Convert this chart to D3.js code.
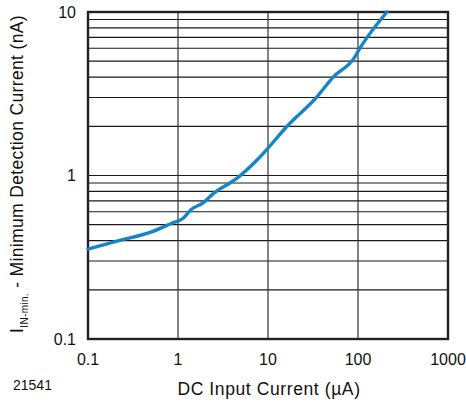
<!DOCTYPE html>
<html><head><meta charset="utf-8">
<script src="https://cdn.jsdelivr.net/npm/d3@7"></script>
<style>body{margin:0;background:#fff}svg{display:block;font-family:Arial,"Liberation Sans",sans-serif}</style>
</head><body><svg id="c" width="466" height="405"></svg>
<script>
const xVals = [0.1, 0.22, 0.5, 0.85, 1.15, 1.4, 1.9, 2.5, 4.5, 7.5, 10, 16, 35, 53, 90, 105, 136, 210];
const yVals = [0.355, 0.4, 0.45, 0.51, 0.55, 0.62, 0.68, 0.78, 0.96, 1.24, 1.47, 1.98, 3.03, 4.0, 5.2, 6.0, 7.4, 10];
const xTicks = [0.1, 1, 10, 100, 1000];
const xTickLabels = ["0.1", "1", "10", "100", "1000"];
const yTicks = [0.1, 1, 10];
const yTickLabels = ["0.1", "1", "10"];

const svg = d3.select("#c");
const L = 88, R = 448, T = 12, B = 339;
const x = d3.scaleLog().domain([0.1, 1000]).range([L, R]);
const y = d3.scaleLog().domain([0.1, 10]).range([B, T]);

// horizontal grid lines (2..9 in each decade, plus 1)
const yGrid = [1];
[0.1, 1].forEach(d => { for (let k = 2; k <= 9; k++) yGrid.push(d * k); });
svg.append("g").selectAll("line").data(yGrid).join("line")
  .attr("x1", L).attr("x2", R).attr("y1", d => y(d)).attr("y2", d => y(d))
  .attr("stroke", "#1a1a1a").attr("stroke-width", 1.2);
svg.append("g").selectAll("line").data([1, 10, 100]).join("line")
  .attr("y1", T).attr("y2", B).attr("x1", d => x(d)).attr("x2", d => x(d))
  .attr("stroke", "#333").attr("stroke-width", 1.2);

// frame
svg.append("rect").attr("x", L).attr("y", T).attr("width", R - L).attr("height", B - T)
  .attr("fill", "none").attr("stroke", "#222").attr("stroke-width", 2.4);

// curve
const line = d3.line().x((d, i) => x(xVals[i])).y((d, i) => y(yVals[i])).curve(d3.curveMonotoneX);
svg.append("path").datum(xVals).attr("d", line)
  .attr("fill", "none").attr("stroke", "#1784c7").attr("stroke-width", 3.4)
  .attr("stroke-linecap", "round");

// tick labels
svg.append("g").selectAll("text").data(xTicks).join("text")
  .attr("x", d => x(d)).attr("y", 365).attr("text-anchor", "middle")
  .attr("font-size", 16).attr("fill", "#111").text((d, i) => xTickLabels[i]);
svg.append("g").selectAll("text").data(yTicks).join("text")
  .attr("x", 76).attr("y", d => y(d) + 5.5).attr("text-anchor", "end")
  .attr("font-size", 16).attr("fill", "#111").text((d, i) => yTickLabels[i]);

// axis titles
svg.append("text").attr("x", 269).attr("y", 395).attr("text-anchor", "middle")
  .attr("font-size", 17.5).attr("letter-spacing", 0.6).attr("fill", "#111").text("DC Input Current (µA)");
svg.append("text").attr("x", 13).attr("y", 390)
  .attr("font-size", 14).attr("fill", "#111").text("21541");
const yt = svg.append("text").attr("transform", "translate(23,174) rotate(-90)")
  .attr("text-anchor", "middle").attr("font-size", 17.5).attr("letter-spacing", 0.35).attr("fill", "#111");
yt.append("tspan").text("I");
yt.append("tspan").attr("font-size", 10).attr("dy", 5).text("IN-min.");
yt.append("tspan").attr("dy", -5).text(" - Minimum Detection Current (nA)");
</script></body></html>
